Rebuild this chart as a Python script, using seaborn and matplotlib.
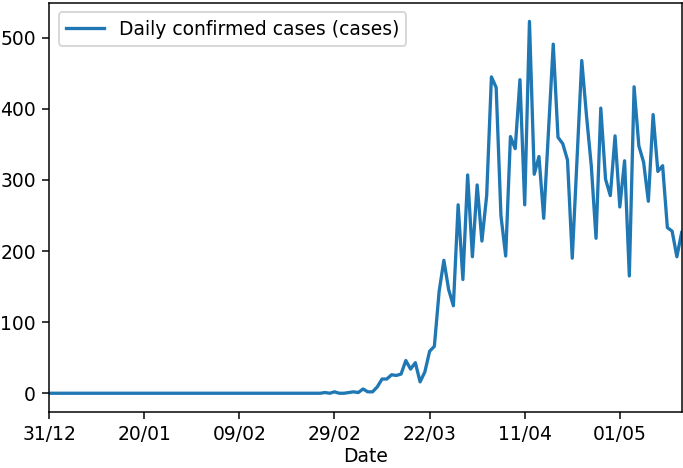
import matplotlib
matplotlib.use("Agg")
import matplotlib.pyplot as plt
import numpy as np
import pandas as pd
import seaborn as sns

# ---------------------------------------------------------------------------
# Data, one value per reported day
# ---------------------------------------------------------------------------
early_zeros = [0] * 58          # 31/12 up to late February: no cases

later_cases = [
    1, 0, 2, 0, 0, 1, 2, 1, 6, 2,
    2, 9, 20, 20, 26, 25, 27, 46, 34, 43,
    16, 30, 59, 66, 143, 187, 146, 123, 265, 160,
    307, 192, 293, 214, 278, 445, 430, 250, 193, 361,
    344, 441, 265, 523, 308, 333, 246, 368, 491, 360,
    351, 328, 190, 330, 468, 390, 320, 218, 401, 301,
    278, 362, 262, 327, 165, 431, 348, 325, 270, 392,
    312, 320, 233, 228, 192, 226,
]

daily_cases = early_zeros + later_cases

tick_labels = ["31/12", "20/01", "09/02", "29/02", "22/03", "11/04", "01/05"]
tick_every = 20

series_label = "Daily confirmed cases (cases)"

df = pd.DataFrame({
    "day": np.arange(len(daily_cases)),
    "cases": daily_cases,
})

# ---------------------------------------------------------------------------
# Plot
# ---------------------------------------------------------------------------
fig, ax = plt.subplots(figsize=(683 / 135, 468 / 135), dpi=135)

sns.lineplot(data=df, x="day", y="cases", ax=ax, color="#1f77b4",
             linewidth=1.75, label=series_label)

ax.set_xlim(df["day"].min(), df["day"].max())
ax.set_xticks(np.arange(len(tick_labels)) * tick_every)
ax.set_xticklabels(tick_labels)
ax.set_xlabel("Date", labelpad=1.5)
ax.set_ylabel("")
ax.legend(loc="upper left")

fig.subplots_adjust(left=0.072, right=0.998, top=0.994, bottom=0.12)
fig.savefig("out.png", dpi=135)
plt.close(fig)
